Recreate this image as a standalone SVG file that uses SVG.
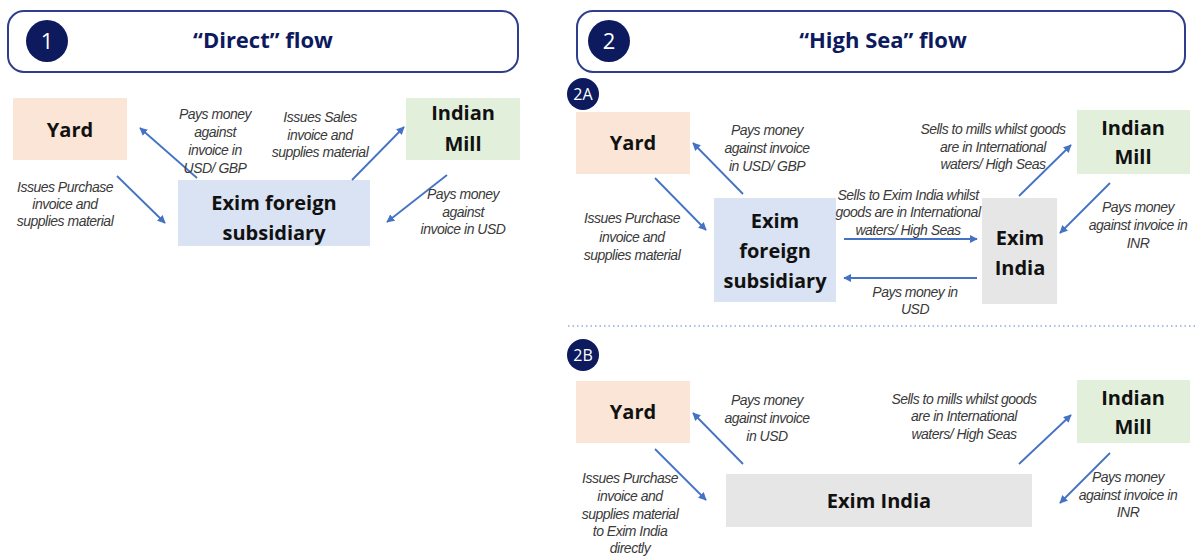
<svg xmlns="http://www.w3.org/2000/svg" width="1195" height="556" viewBox="0 0 1195 556">
<defs>
<marker id="ah" viewBox="0 0 10 10" refX="9" refY="5" markerWidth="8" markerHeight="8" markerUnits="userSpaceOnUse" orient="auto"><path d="M0,0 L10,5 L0,10 z" fill="#4472c4"/></marker>
<style>
.hdr{fill:#fff;stroke:#2f3e8c;stroke-width:2}
.num{fill:#0d1a5e}
.numt{font-family:"Open Sans","Liberation Sans",sans-serif;fill:#fff;text-anchor:middle}
.ttl{font-family:"Open Sans","Liberation Sans",sans-serif;font-weight:bold;font-size:22px;fill:#0d1a5e;text-anchor:middle}
.yard{fill:#fbe5d6}
.efs{fill:#dae3f3}
.mill{fill:#e2efda}
.exi{fill:#e7e6e6}
.bt{font-family:"Open Sans","Liberation Sans",sans-serif;font-weight:bold;font-size:20px;fill:#111;text-anchor:middle}
.lb{font-family:"Liberation Sans",Arial,sans-serif;font-style:italic;font-size:14px;fill:#3a3a3a;text-anchor:middle;letter-spacing:-0.5px}
.cn{stroke:#4472c4;stroke-width:1.8;fill:none;marker-end:url(#ah)}
</style>
</defs>

<g id="header1">
<rect class="hdr" x="8" y="11" width="510" height="61" rx="16"/>
<circle class="num" cx="47" cy="41" r="21"/>
<text class="numt" x="47" y="49" font-size="22">1</text>
<text class="ttl" x="263" y="48">“Direct” flow</text>
</g>
<g id="header2">
<rect class="hdr" x="577" y="11" width="608" height="61" rx="16"/>
<circle class="num" cx="609" cy="41" r="21"/>
<text class="numt" x="609" y="49" font-size="22">2</text>
<text class="ttl" x="883" y="48">“High Sea” flow</text>
</g>

<!-- Panel 1 -->
<g id="p1-yard"><rect class="yard" x="13" y="98" width="114" height="62"/><text class="bt" x="70" y="137">Yard</text></g>
<g id="p1-efs"><rect class="efs" x="178" y="180" width="192" height="66"/><text class="bt" x="274" y="210">Exim foreign</text><text class="bt" x="274" y="240">subsidiary</text></g>
<g id="p1-mill"><rect class="mill" x="406" y="98" width="114" height="62"/><text class="bt" x="463" y="120">Indian</text><text class="bt" x="463" y="151">Mill</text></g>

<!-- 2A -->
<g id="badge2a"><circle class="num" cx="583" cy="94" r="16"/><text class="numt" x="583" y="100" font-size="16">2A</text></g>
<g id="a-yard"><rect class="yard" x="576" y="112" width="114" height="62"/><text class="bt" x="633" y="150">Yard</text></g>
<g id="a-efs"><rect class="efs" x="714" y="198" width="122" height="104"/><text class="bt" x="775" y="228">Exim</text><text class="bt" x="775" y="258">foreign</text><text class="bt" x="775" y="288">subsidiary</text></g>
<g id="a-exi"><rect class="exi" x="982" y="198" width="75" height="106"/><text class="bt" x="1020" y="245">Exim</text><text class="bt" x="1020" y="275">India</text></g>
<g id="a-mill"><rect class="mill" x="1077" y="110" width="113" height="64"/><text class="bt" x="1133" y="135">Indian</text><text class="bt" x="1133" y="164">Mill</text></g>

<line x1="568" y1="326" x2="1195" y2="326" stroke="#8faadc" stroke-width="1.5" stroke-dasharray="1.5 3"/>

<!-- 2B -->
<g id="badge2b"><circle class="num" cx="583" cy="355" r="16"/><text class="numt" x="583" y="361" font-size="16">2B</text></g>
<g id="b-yard"><rect class="yard" x="576" y="381" width="114" height="62"/><text class="bt" x="633" y="419">Yard</text></g>
<g id="b-exi"><rect class="exi" x="726" y="474" width="306" height="53"/><text class="bt" x="879" y="508">Exim India</text></g>
<g id="b-mill"><rect class="mill" x="1077" y="380" width="113" height="63"/><text class="bt" x="1133" y="405">Indian</text><text class="bt" x="1133" y="434">Mill</text></g>

<g id="connectors">
<line class="cn" x1="117" y1="176" x2="165" y2="223"/>
<line class="cn" x1="197" y1="178" x2="140" y2="128"/>
<line class="cn" x1="352" y1="180" x2="404" y2="127"/>
<line class="cn" x1="447" y1="175" x2="387" y2="222"/>

<line class="cn" x1="655" y1="178" x2="706" y2="230"/>
<line class="cn" x1="743" y1="194" x2="693" y2="143"/>
<line class="cn" x1="844" y1="239" x2="977" y2="239"/>
<line class="cn" x1="977" y1="278" x2="844" y2="278"/>
<line class="cn" x1="1019" y1="196" x2="1071" y2="145"/>
<line class="cn" x1="1110" y1="183" x2="1060" y2="233"/>

<line class="cn" x1="655" y1="449" x2="706" y2="500"/>
<line class="cn" x1="743" y1="464" x2="693" y2="413"/>
<line class="cn" x1="1019" y1="464" x2="1071" y2="415"/>
<line class="cn" x1="1110" y1="453" x2="1060" y2="503"/>
</g>

<g id="labels">
<text class="lb" x="65" y="192">Issues Purchase</text>
<text class="lb" x="65" y="209">invoice and</text>
<text class="lb" x="65" y="226">supplies material</text>

<text class="lb" x="215" y="119">Pays money</text>
<text class="lb" x="215" y="137">against</text>
<text class="lb" x="215" y="155">invoice in</text>
<text class="lb" x="215" y="173">USD/ GBP</text>

<text class="lb" x="320" y="122">Issues Sales</text>
<text class="lb" x="320" y="140">invoice and</text>
<text class="lb" x="320" y="157">supplies material</text>

<text class="lb" x="463" y="199">Pays money</text>
<text class="lb" x="463" y="217">against</text>
<text class="lb" x="463" y="234">invoice in USD</text>

<text class="lb" x="767" y="135">Pays money</text>
<text class="lb" x="767" y="153">against invoice</text>
<text class="lb" x="767" y="171">in USD/ GBP</text>

<text class="lb" x="632" y="223">Issues Purchase</text>
<text class="lb" x="632" y="242">invoice and</text>
<text class="lb" x="632" y="260">supplies material</text>

<text class="lb" x="993" y="134">Sells to mills whilst goods</text>
<text class="lb" x="993" y="152">are in International</text>
<text class="lb" x="993" y="169">waters/ High Seas</text>

<text class="lb" x="908" y="200">Sells to Exim India whilst</text>
<text class="lb" x="908" y="217">goods are in International</text>
<text class="lb" x="908" y="235">waters/ High Seas</text>

<text class="lb" x="1138" y="212">Pays money</text>
<text class="lb" x="1138" y="230">against invoice in</text>
<text class="lb" x="1138" y="248">INR</text>

<text class="lb" x="915" y="297">Pays money in</text>
<text class="lb" x="915" y="314">USD</text>

<text class="lb" x="767" y="405">Pays money</text>
<text class="lb" x="767" y="423">against invoice</text>
<text class="lb" x="767" y="441">in USD</text>

<text class="lb" x="630" y="483">Issues Purchase</text>
<text class="lb" x="630" y="501">invoice and</text>
<text class="lb" x="630" y="519">supplies material</text>
<text class="lb" x="630" y="536">to Exim India</text>
<text class="lb" x="630" y="553">directly</text>

<text class="lb" x="964" y="404">Sells to mills whilst goods</text>
<text class="lb" x="964" y="421">are in International</text>
<text class="lb" x="964" y="439">waters/ High Seas</text>

<text class="lb" x="1128" y="482">Pays money</text>
<text class="lb" x="1128" y="500">against invoice in</text>
<text class="lb" x="1128" y="517">INR</text>
</g>
</svg>
